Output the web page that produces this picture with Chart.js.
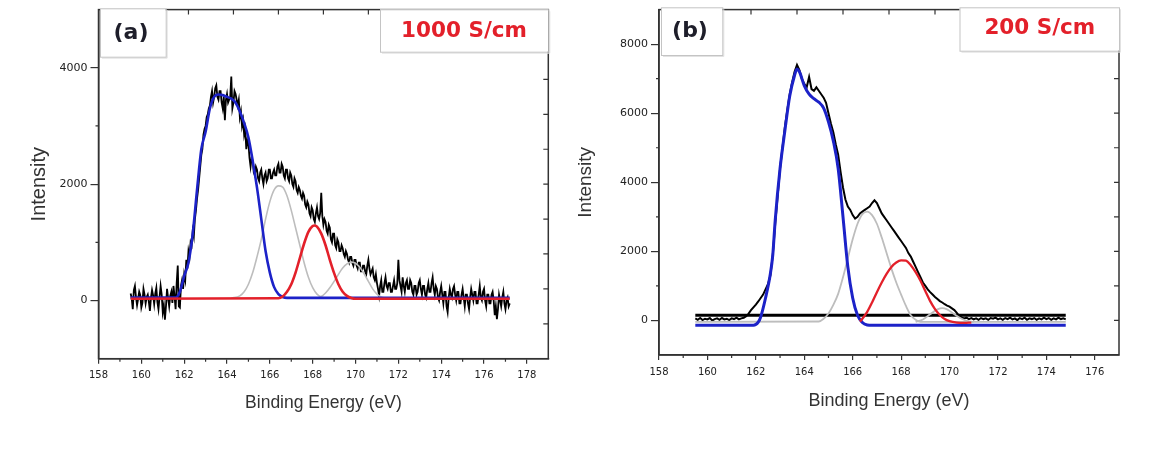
<!DOCTYPE html>
<html><head><meta charset="utf-8">
<script src="https://cdn.jsdelivr.net/npm/chart.js@4.4.1/dist/chart.umd.min.js"></script>
<style>
html,body{margin:0;padding:0;background:#fff;width:1156px;height:452px;overflow:hidden;}
#wa{position:absolute;left:0;top:0;width:578px;height:452px;}
#wb{position:absolute;left:570px;top:0;width:586px;height:452px;}
</style></head><body>
<div id="wa"><canvas id="ca" width="578" height="452"></canvas></div>
<div id="wb"><canvas id="cb" width="586" height="452"></canvas></div>
<script>
// ---------------- DATA: panel (a) 1000 S/cm ----------------
const rawStartA = 159.5, rawStepA = 0.05;
const rawA = [
 120,40,-150,180,250,60,-80,30,150,90,-120,-40,200,100,-50,60,100,-20,-180,50,
 180,90,-60,120,220,-30,-150,60,250,100,-200,-80,-330,-100,200,40,-100,80,150,-40,
 250,80,-150,300,600,-100,-120,250,350,200,450,350,700,550,850,750,1000,950,1200,1100,
 1400,1550,1750,1900,2100,2300,2500,2600,2850,2950,3000,3150,3200,3300,3350,3500,3600,3400,3500,3650,
 3700,3500,3450,3600,3600,3400,3300,3500,3100,3450,3550,3400,3450,3500,3850,3300,3400,3600,3550,3450,
 3350,3450,3150,3250,3000,3100,2850,2950,2600,2750,2700,2450,2300,2450,2400,2200,2150,2300,2250,2100,
 2050,2200,2250,2100,2000,2150,2200,2050,2100,2250,2250,2100,2100,2200,2250,2150,2150,2300,2350,2200,
 2200,2350,2300,2150,2100,2250,2250,2100,2050,2200,2150,2000,1950,2100,2050,1900,1850,1950,1900,1800,
 1750,1850,1800,1650,1600,1700,1650,1500,1450,1600,1550,1400,1350,1500,1600,1450,1400,1500,1850,1450,
 1300,1400,1350,1200,1150,1300,1250,1050,1000,1150,1150,950,900,1050,1000,850,850,950,900,800,
 750,850,800,700,650,750,750,650,600,700,700,600,550,650,650,500,500,600,600,500,
 450,600,700,550,450,500,550,400,350,450,300,200,80,250,350,150,150,300,400,250,
 200,300,300,150,150,250,350,200,200,300,700,350,250,150,400,250,150,300,350,200,
 200,350,300,150,100,250,250,100,150,300,350,200,100,250,250,100,50,200,300,150,
 150,300,400,200,100,250,200,50,0,150,250,100,-50,150,150,-100,-200,50,200,100,
 50,200,250,100,0,150,150,-50,-50,100,200,50,-100,100,100,-50,-150,50,200,100,
 0,150,150,-50,-50,100,250,50,0,150,200,0,-100,100,100,-50,-50,100,150,0,
 -250,-100,-320,-150,100,0,-100,50,150,-50,-150,0,50,-100,-50
];
const blueAx = [159.5,161.6,161.8,162.0,162.2,162.4,162.6,162.8,163.0,163.2,163.4,163.6,163.8,164.0,164.2,164.4,164.6,164.8,165.0,165.2,165.4,165.6,165.8,166.0,166.2,166.4,166.6,166.8,177.2];
const blueAy = [50,50,150,420,650,1150,1900,2600,2900,3300,3500,3540,3530,3500,3470,3400,3250,3050,2800,2400,1940,1400,850,480,230,110,60,45,45];
const redAx = [159.5,166.4,166.6,166.8,167.0,167.2,167.4,167.6,167.8,168.0,168.1,168.2,168.4,168.6,168.8,169.0,169.2,169.4,169.6,169.8,170.0,177.2];
const redAy = [30,40,70,150,280,480,730,980,1180,1280,1290,1270,1150,950,700,470,280,150,80,45,30,30];
const grayA1x = [164.2,164.6,164.8,165.0,165.2,165.4,165.6,165.8,166.0,166.2,166.4,166.6,166.8,167.0,167.2,167.4,167.6,167.8,168.0,168.2,168.4,168.6];
const grayA1y = [40,80,150,280,480,750,1050,1400,1700,1900,1970,1950,1800,1550,1250,950,650,400,220,110,60,40];
const grayA2x = [168.2,168.4,168.6,168.8,169.0,169.2,169.4,169.6,169.8,170.0,170.2,170.4,170.6,170.8,171.0,171.2,171.4];
const grayA2y = [40,70,130,220,330,450,560,630,660,640,570,460,330,200,110,60,40];
const xTicksA = [158,160,162,164,166,168,170,172,174,176,178];
const xMinorA = [159,161,163,165,167,169,171,173,175,177];
const yTicksA = [0,2000,4000];
const yMinorA = [1000,3000];

// ---------------- DATA: panel (b) 200 S/cm ----------------
const rawStartB = 159.5, rawStepB = 0.1;
const rawB = [
 60,20,70,10,50,30,70,0,40,60,
 20,70,30,50,10,60,40,80,30,60,
 80,120,200,300,380,460,550,650,750,900,
 1050,1300,1900,2800,3600,4400,5000,5600,6100,6550,
 6900,7200,7400,7250,7000,6850,6750,7050,6700,6650,
 6750,6650,6550,6450,6300,6000,5700,5450,5100,4800,
 4300,3850,3500,3300,3200,3050,2950,3000,3100,3150,
 3200,3250,3300,3400,3480,3400,3250,3100,3000,2900,
 2800,2700,2600,2500,2400,2300,2200,2100,1950,1850,
 1700,1550,1400,1250,1100,1000,900,820,750,680,
 620,560,520,470,430,400,350,300,220,130,
 90,60,80,40,70,30,60,20,70,40,
 60,20,70,50,80,30,60,20,70,40,
 80,30,60,10,70,40,80,20,60,40,
 70,20,60,30,80,40,70,20,60,30,
 80,40,60,30
];
const baseBx = [159.5,174.8];
const baseBy = [150,150];
const blueBx = [159.5,161.9,162.1,162.2,162.4,162.6,162.7,162.8,163.0,163.2,163.4,163.6,163.7,163.8,164.0,164.2,164.4,164.6,164.8,165.0,165.2,165.4,165.6,165.8,166.0,166.2,166.4,166.6,166.8,174.8];
const blueBy = [-140,-140,-50,100,650,1350,1900,2900,4400,5500,6500,7100,7280,7200,6800,6550,6420,6320,6150,5750,5200,4400,3000,1550,650,150,-60,-130,-140,-140];
const grayB1x = [159.5,164.6,164.8,165.0,165.2,165.4,165.6,165.8,166.0,166.2,166.4,166.6,166.8,167.0,167.2,167.4,167.6,167.8,168.0,168.2,168.4,168.6,168.8,174.8];
const grayB1y = [-40,-30,50,200,450,770,1250,1800,2350,2800,3080,3150,3050,2800,2400,1950,1500,1100,750,420,150,20,-40,-40];
const grayB2x = [168.6,168.9,169.2,169.5,169.7,169.9,170.2,170.5,170.8,171.0];
const grayB2y = [-40,30,180,320,360,320,180,50,-30,-40];
const redBx = [166.3,166.4,166.6,166.8,167.0,167.2,167.4,167.6,167.8,168.0,168.2,168.4,168.6,168.8,169.0,169.2,169.4,169.6,169.8,170.0,170.3,170.6,170.9];
const redBy = [-30,50,250,520,820,1100,1350,1550,1680,1740,1730,1600,1400,1150,850,560,330,160,40,-20,-60,-70,-60];
const xTicksB = [158,160,162,164,166,168,170,172,174,176];
const xMinorB = [159,161,163,165,167,169,171,173,175];
const yTicksB = [0,2000,4000,6000,8000];
const yMinorB = [1000,3000,5000,7000];

const frameTicks = [1,2,3,4,5,6,7,8,9];

// ---------------- helpers ----------------
const pts = (xs, ys) => xs.map((x, i) => ({x: x, y: ys[i]}));
const rawPts = (start, step, ys) => ys.map((y, i) => ({x: +(start + i * step).toFixed(2), y: y}));

const C_BLACK = '#000000', C_BLUE = '#1c22c8', C_RED = '#e3202a', C_GRAY = '#bdbdbd';

const framePlugin = {
  id: 'frame',
  afterDraw(chart, args, o) {
    const {ctx, chartArea: a, scales} = chart;
    ctx.save();
    ctx.strokeStyle = '#333';
    ctx.lineWidth = 1.5;
    ctx.strokeRect(a.left, a.top, a.right - a.left, a.bottom - a.top);
    ctx.lineWidth = 1.2;
    ctx.beginPath();
    o.xMinor.forEach(v => { const p = scales.x.getPixelForValue(v); ctx.moveTo(p, a.bottom); ctx.lineTo(p, a.bottom + 3); });
    o.yMinor.forEach(v => { const p = scales.y.getPixelForValue(v); ctx.moveTo(a.left, p); ctx.lineTo(a.left - 3, p); });
    frameTicks.forEach(v => {
      const p = scales.x2.getPixelForValue(v); ctx.moveTo(p, a.top); ctx.lineTo(p, a.top + 5);
      const q = scales.y2.getPixelForValue(v); ctx.moveTo(a.right, q); ctx.lineTo(a.right - 5, q);
    });
    ctx.stroke();
    o.boxes.forEach(b => {
      ctx.fillStyle = '#ffffff';
      ctx.fillRect(b.x, b.y, b.w, b.h);
      ctx.strokeStyle = '#e2e2e2'; ctx.lineWidth = 1;
      ctx.beginPath();
      ctx.moveTo(b.x + 2, b.y + b.h + 1.5); ctx.lineTo(b.x + b.w + 1.5, b.y + b.h + 1.5); ctx.lineTo(b.x + b.w + 1.5, b.y + 2);
      ctx.stroke();
      ctx.strokeStyle = '#c4c4c4';
      ctx.strokeRect(b.x + 0.5, b.y + 0.5, b.w, b.h);
      ctx.fillStyle = b.color;
      ctx.font = b.font;
      ctx.textAlign = 'center';
      ctx.textBaseline = 'middle';
      ctx.fillText(b.text, b.cx, b.cy);
    });
    ctx.restore();
  }
};

function makeChart(id, cfg) {
  return new Chart(document.getElementById(id), {
    type: 'line',
    data: {datasets: cfg.datasets},
    plugins: [framePlugin],
    options: {
      responsive: false,
      animation: false,
      layout: {padding: cfg.padding},
      elements: {point: {radius: 0}},
      plugins: {
        legend: {display: false},
        tooltip: {enabled: false},
        frame: {xMinor: cfg.xMinor, yMinor: cfg.yMinor, boxes: cfg.boxes}
      },
      scales: {
        x: {
          type: 'linear', position: 'bottom', min: cfg.xMin, max: cfg.xMax,
          afterBuildTicks: s => { s.ticks = cfg.xTicks.map(v => ({value: v})); },
          afterFit: s => { s.height = cfg.xHeight; },
          ticks: {font: {family: 'DejaVu Sans', size: 10}, color: '#222', padding: 6, maxRotation: 0, autoSkip: false, callback: v => String(v)},
          grid: {drawOnChartArea: false, drawTicks: true, tickLength: 5, color: '#333', lineWidth: 1.2},
          border: {display: true, color: '#333', width: 1.5},
          title: {display: true, text: 'Binding Energy (eV)', color: '#333',
                  font: {family: 'Liberation Sans', size: cfg.xTitleSize}, padding: {top: 0, bottom: cfg.xTitlePad}}
        },
        y: {
          type: 'linear', position: 'left', min: cfg.yMin, max: cfg.yMax,
          afterBuildTicks: s => { s.ticks = cfg.yTicks.map(v => ({value: v})); },
          afterFit: s => { s.width = cfg.yWidth; },
          ticks: {font: {family: 'DejaVu Sans', size: 11}, color: '#222', padding: 3, autoSkip: false, callback: v => String(v)},
          grid: {drawOnChartArea: false, drawTicks: true, tickLength: 8, color: '#333', lineWidth: 1.2},
          border: {display: true, color: '#333', width: 1.5},
          title: {display: true, text: 'Intensity', color: '#333',
                  font: {family: 'Liberation Sans', size: cfg.yTitleSize}, padding: {top: cfg.yTitlePad, bottom: 0}}
        },
        x2: {type: 'linear', position: 'top', display: false, min: 0, max: 10},
        y2: {type: 'linear', position: 'right', display: false, min: 0, max: 10}
      }
    }
  });
}

function ds(data, color, width, order, smooth) {
  return {data: data, borderColor: color, borderWidth: width, order: order, fill: false,
          cubicInterpolationMode: smooth ? 'monotone' : 'default', tension: smooth ? 0.4 : 0};
}

makeChart('ca', {
  padding: {left: 0, top: 8, right: 29.7, bottom: 0},
  xMin: 158, xMax: 179, yMin: -1000, yMax: 5000,
  xTicks: xTicksA, yTicks: yTicksA, xMinor: xMinorA, yMinor: yMinorA,
  xHeight: 93.3, yWidth: 98.5,
  xTitleSize: 17.5, xTitlePad: 38.5, yTitleSize: 20, yTitlePad: 27,
  datasets: [
    ds(pts(redAx, redAy), C_RED, 2.6, 0, true),
    ds(pts(blueAx, blueAy), C_BLUE, 2.6, 1, true),
    ds(pts(grayA1x, grayA1y), C_GRAY, 1.6, 2, true),
    ds(pts(grayA2x, grayA2y), C_GRAY, 1.6, 2, true),
    ds(rawPts(rawStartA, rawStepA, rawA), C_BLACK, 1.8, 3, false)
  ],
  boxes: [
    {x: 100, y: 8.3, w: 65.7, h: 48.4, text: '(a)', color: '#1e1e2a', font: 'bold 22px "DejaVu Sans"', cx: 131, cy: 33},
    {x: 380, y: 9.3, w: 168.3, h: 42.4, text: '1000 S/cm', color: C_RED, font: 'bold 21.5px "DejaVu Sans"', cx: 464, cy: 31.3}
  ]
});

makeChart('cb', {
  padding: {left: 0, top: 7.3, right: 37, bottom: 0},
  xMin: 158, xMax: 177, yMin: -1000, yMax: 9000,
  xTicks: xTicksB, yTicks: yTicksB, xMinor: xMinorB, yMinor: yMinorB,
  xHeight: 97, yWidth: 89,
  xTitleSize: 18, xTitlePad: 40.2, yTitleSize: 19, yTitlePad: 4.6,
  datasets: [
    ds(pts(redBx, redBy), C_RED, 2.3, 0, true),
    ds(pts(blueBx, blueBy), C_BLUE, 3, 1, true),
    ds(pts(grayB1x, grayB1y), C_GRAY, 1.8, 2, true),
    ds(pts(grayB2x, grayB2y), C_GRAY, 1.8, 2, true),
    ds(pts(baseBx, baseBy), C_BLACK, 3, 3, false),
    ds(rawPts(rawStartB, rawStepB, rawB), C_BLACK, 2, 4, false)
  ],
  boxes: [
    {x: 91, y: 7.3, w: 61.3, h: 47.7, text: '(b)', color: '#1e1e2a', font: 'bold 22px "DejaVu Sans"', cx: 120, cy: 31},
    {x: 389.5, y: 7.3, w: 159.5, h: 43.4, text: '200 S/cm', color: C_RED, font: 'bold 21.5px "DejaVu Sans"', cx: 469.8, cy: 28.3}
  ]
});
</script>
</body></html>
